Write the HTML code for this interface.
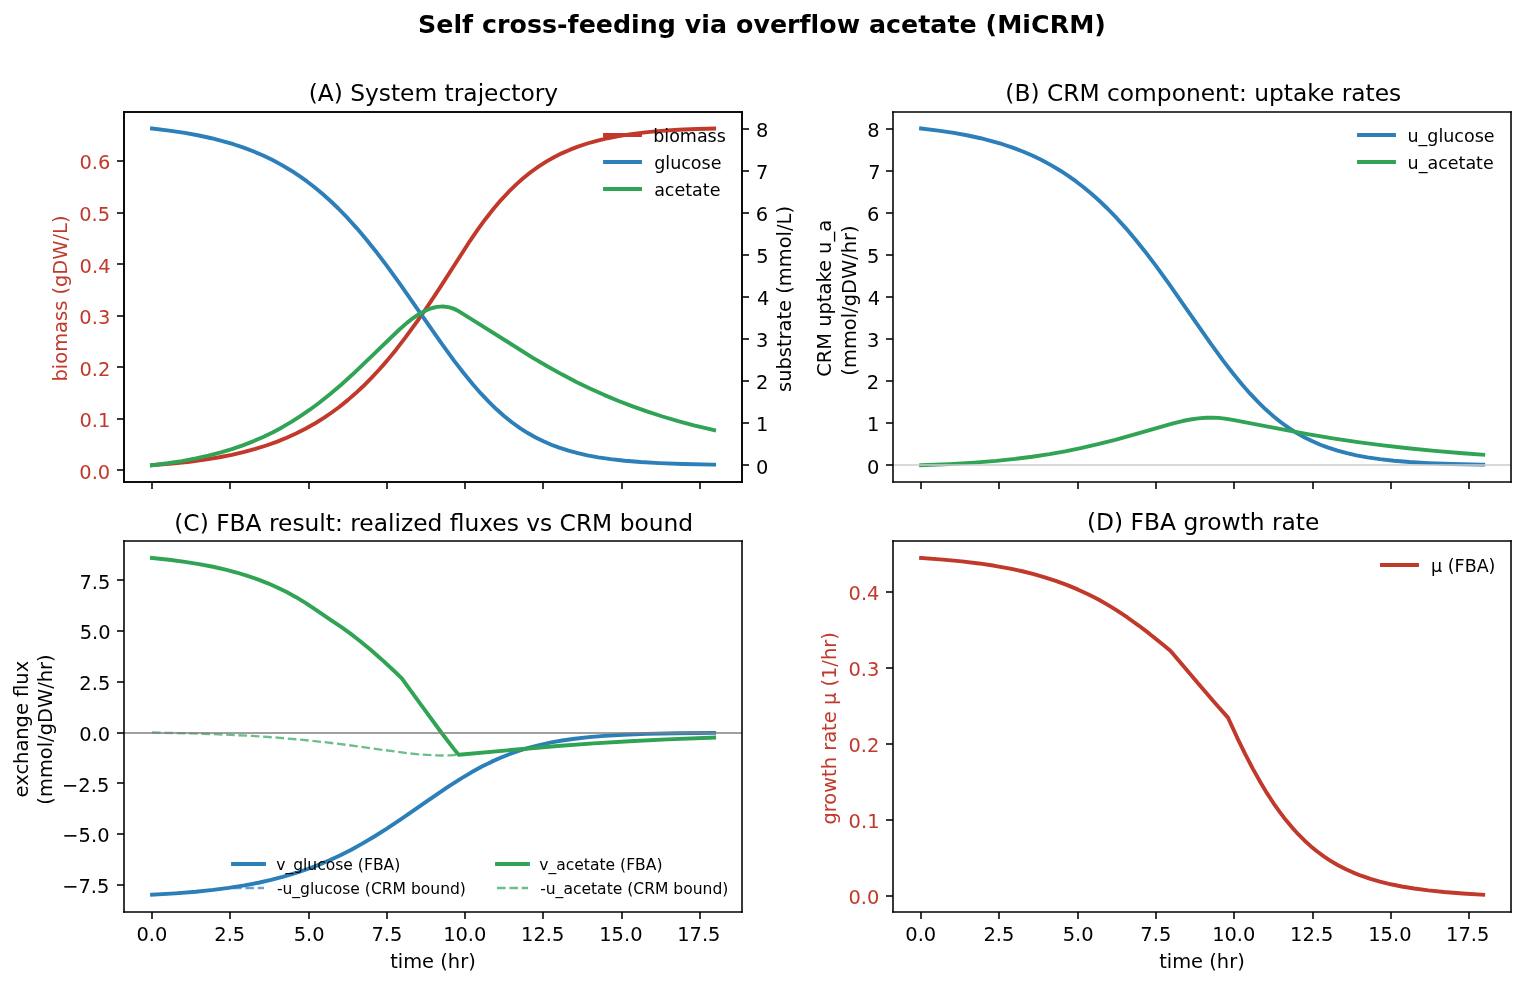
<!DOCTYPE html>
<html lang="en">
<head>
<meta charset="utf-8">
<title>Self cross-feeding via overflow acetate (MiCRM)</title>
<style>
html,body{margin:0;padding:0;background:#ffffff;}
body{width:1525px;height:985px;overflow:hidden;}
svg{display:block;}
svg text{font-family:"DejaVu Sans","Liberation Sans",sans-serif;white-space:pre;}
</style>
</head>
<body>
<svg width="1525" height="985" viewBox="0 0 1525 985" font-family="'DejaVu Sans', 'Liberation Sans', sans-serif" fill="#000000">
<defs><clipPath id="p2826ea873a"><rect x="123.89" y="541.17" width="618.36" height="370.44"/></clipPath><clipPath id="p5333a66695"><rect x="892.96" y="541.17" width="618.36" height="370.44"/></clipPath><clipPath id="p8abebcdf16"><rect x="892.96" y="111.67" width="618.36" height="370.44"/></clipPath><clipPath id="p965609456f"><rect x="123.89" y="111.67" width="618.36" height="370.44"/></clipPath></defs>
<rect width="1525" height="985" fill="#ffffff" stroke="none"/>
<path d="M152 482L152 489" stroke="#000000" stroke-width="1.56" stroke-linejoin="round" fill="none"/>
<path d="M230 482L230 489" stroke="#000000" stroke-width="1.56" stroke-linejoin="round" fill="none"/>
<path d="M309 482L309 489" stroke="#000000" stroke-width="1.56" stroke-linejoin="round" fill="none"/>
<path d="M387 482L387 489" stroke="#000000" stroke-width="1.56" stroke-linejoin="round" fill="none"/>
<path d="M465 482L465 489" stroke="#000000" stroke-width="1.56" stroke-linejoin="round" fill="none"/>
<path d="M543 482L543 489" stroke="#000000" stroke-width="1.56" stroke-linejoin="round" fill="none"/>
<path d="M622 482L622 489" stroke="#000000" stroke-width="1.56" stroke-linejoin="round" fill="none"/>
<path d="M700 482L700 489" stroke="#000000" stroke-width="1.56" stroke-linejoin="round" fill="none"/>
<path d="M124 470L117 470" stroke="#000000" stroke-width="1.56" stroke-linejoin="round" fill="none"/>
<text id="t0" font-size="19.44" text-anchor="end" fill="#c0392b" x="110.23" y="479">0.0</text>
<path d="M124 419L117 419" stroke="#000000" stroke-width="1.56" stroke-linejoin="round" fill="none"/>
<text id="t1" font-size="19.44" text-anchor="end" fill="#c0392b" x="110.42" y="427">0.1</text>
<path d="M124 367L117 367" stroke="#000000" stroke-width="1.56" stroke-linejoin="round" fill="none"/>
<text id="t2" font-size="19.44" text-anchor="end" fill="#c0392b" x="110.36" y="376">0.2</text>
<path d="M124 316L117 316" stroke="#000000" stroke-width="1.56" stroke-linejoin="round" fill="none"/>
<text id="t3" font-size="19.44" text-anchor="end" fill="#c0392b" x="110.27" y="324">0.3</text>
<path d="M124 264L117 264" stroke="#000000" stroke-width="1.56" stroke-linejoin="round" fill="none"/>
<text id="t4" font-size="19.44" text-anchor="end" fill="#c0392b" x="110.52" y="273">0.4</text>
<path d="M124 213L117 213" stroke="#000000" stroke-width="1.56" stroke-linejoin="round" fill="none"/>
<text id="t5" font-size="19.44" text-anchor="end" fill="#c0392b" x="110.16" y="221">0.5</text>
<path d="M124 161L117 161" stroke="#000000" stroke-width="1.56" stroke-linejoin="round" fill="none"/>
<text id="t6" font-size="19.44" text-anchor="end" fill="#c0392b" x="110.31" y="169">0.6</text>
<text id="t7" font-size="19.44" text-anchor="middle" fill="#c0392b" transform="translate(67 298.48) rotate(-90)">biomass (gDW/L)</text>
<path d="M152 465.26L172.35 463.56L189.58 461.7L205.24 459.59L219.33 457.26L231.86 454.79L244.38 451.88L255.34 448.92L266.31 445.51L277.27 441.6L286.66 437.8L296.06 433.55L305.45 428.8L314.85 423.51L324.24 417.63L332.07 412.26L339.9 406.44L347.73 400.13L355.56 393.33L363.39 386.02L371.22 378.17L379.05 369.79L386.88 360.86L396.27 349.41L405.67 337.18L416.63 322.1L427.59 306.28L440.12 287.45L455.78 263.03L469.87 241.07L477.7 229.67L485.53 218.97L493.36 209.02L501.19 199.86L509.02 191.48L516.84 183.88L523.11 178.33L530.94 172.04L538.77 166.43L546.6 161.43L554.43 157.01L562.26 153.1L570.08 149.66L577.91 146.64L587.31 143.5L596.7 140.83L607.67 138.22L618.63 136.07L631.15 134.09L645.25 132.34L660.91 130.89L678.13 129.76L696.92 128.95L714.14 128.5L714.14 128.5" stroke="#c0392b" stroke-width="3.89" stroke-linecap="square" stroke-linejoin="round" fill="none" clip-path="url(#p965609456f)"/>
<path d="M124 482L124 112" stroke="#000000" stroke-width="1.56" stroke-linecap="square" stroke-linejoin="miter" fill="none"/>
<path d="M742 482L742 112" stroke="#000000" stroke-width="1.56" stroke-linecap="square" stroke-linejoin="miter" fill="none"/>
<path d="M124 482L742 482" stroke="#000000" stroke-width="1.56" stroke-linecap="square" stroke-linejoin="miter" fill="none"/>
<path d="M124 112L742 112" stroke="#000000" stroke-width="1.56" stroke-linecap="square" stroke-linejoin="miter" fill="none"/>
<text id="t8" font-size="23.33" text-anchor="middle" x="433.39" y="101">(A) System trajectory</text>
<path d="M605 135L622 135L640 135" stroke="#c0392b" stroke-width="3.89" stroke-linecap="square" stroke-linejoin="round" fill="none"/>
<text id="t9" font-size="17.5" x="653.16" y="142">biomass</text>
<path d="M605 162L622 162L640 162" stroke="#2c7fb8" stroke-width="3.89" stroke-linecap="square" stroke-linejoin="round" fill="none"/>
<text id="t10" font-size="17.5" x="654.16" y="169">glucose</text>
<path d="M605 189L622 189L640 189" stroke="#31a354" stroke-width="3.89" stroke-linecap="square" stroke-linejoin="round" fill="none"/>
<text id="t11" font-size="17.5" x="654.15" y="196">acetate</text>
<path d="M921 482L921 489" stroke="#000000" stroke-width="1.56" stroke-linejoin="round" fill="none"/>
<path d="M999 482L999 489" stroke="#000000" stroke-width="1.56" stroke-linejoin="round" fill="none"/>
<path d="M1078 482L1078 489" stroke="#000000" stroke-width="1.56" stroke-linejoin="round" fill="none"/>
<path d="M1156 482L1156 489" stroke="#000000" stroke-width="1.56" stroke-linejoin="round" fill="none"/>
<path d="M1234 482L1234 489" stroke="#000000" stroke-width="1.56" stroke-linejoin="round" fill="none"/>
<path d="M1313 482L1313 489" stroke="#000000" stroke-width="1.56" stroke-linejoin="round" fill="none"/>
<path d="M1391 482L1391 489" stroke="#000000" stroke-width="1.56" stroke-linejoin="round" fill="none"/>
<path d="M1469 482L1469 489" stroke="#000000" stroke-width="1.56" stroke-linejoin="round" fill="none"/>
<path d="M893 465L886 465" stroke="#000000" stroke-width="1.56" stroke-linejoin="round" fill="none"/>
<text id="t12" font-size="19.44" text-anchor="end" x="879.29" y="474">0</text>
<path d="M893 423L886 423" stroke="#000000" stroke-width="1.56" stroke-linejoin="round" fill="none"/>
<text id="t13" font-size="19.44" text-anchor="end" x="879.48" y="431">1</text>
<path d="M893 381L886 381" stroke="#000000" stroke-width="1.56" stroke-linejoin="round" fill="none"/>
<text id="t14" font-size="19.44" text-anchor="end" x="879.23" y="389">2</text>
<path d="M893 339L886 339" stroke="#000000" stroke-width="1.56" stroke-linejoin="round" fill="none"/>
<text id="t15" font-size="19.44" text-anchor="end" x="879.33" y="347">3</text>
<path d="M893 297L886 297" stroke="#000000" stroke-width="1.56" stroke-linejoin="round" fill="none"/>
<text id="t16" font-size="19.44" text-anchor="end" x="880.24" y="305">4</text>
<path d="M893 255L886 255" stroke="#000000" stroke-width="1.56" stroke-linejoin="round" fill="none"/>
<text id="t17" font-size="19.44" text-anchor="end" x="879.36" y="263">5</text>
<path d="M893 213L886 213" stroke="#000000" stroke-width="1.56" stroke-linejoin="round" fill="none"/>
<text id="t18" font-size="19.44" text-anchor="end" x="879.3" y="221">6</text>
<path d="M893 171L886 171" stroke="#000000" stroke-width="1.56" stroke-linejoin="round" fill="none"/>
<text id="t19" font-size="19.44" text-anchor="end" x="880.53" y="179">7</text>
<path d="M893 129L886 129" stroke="#000000" stroke-width="1.56" stroke-linejoin="round" fill="none"/>
<text id="t20" font-size="19.44" text-anchor="end" x="879.55" y="137">8</text>
<text id="t21" font-size="19.44" transform="translate(831 376.82) rotate(-90)">CRM uptake u_a</text>
<text id="t22" font-size="19.44" transform="translate(856 375.63) rotate(-90)">(mmol/gDW/hr)</text>
<path d="M921.06 128.5L938.29 130.57L953.95 132.92L968.04 135.5L980.57 138.24L991.53 141.03L1002.49 144.24L1013.45 147.94L1022.85 151.54L1032.24 155.57L1041.64 160.08L1051.03 165.12L1060.43 170.72L1068.26 175.85L1076.09 181.42L1083.91 187.45L1091.74 193.97L1099.57 200.98L1107.4 208.5L1116.8 218.18L1126.19 228.59L1135.59 239.69L1144.98 251.43L1155.95 265.87L1168.47 283.16L1185.7 307.81L1210.75 343.72L1223.28 360.85L1232.67 373.04L1242.07 384.52L1249.9 393.44L1257.73 401.71L1265.56 409.32L1273.39 416.24L1281.21 422.49L1289.04 428.09L1296.87 433.06L1304.7 437.46L1312.53 441.33L1320.36 444.7L1328.19 447.65L1337.59 450.66L1346.98 453.19L1356.38 455.3L1367.34 457.32L1379.86 459.15L1393.96 460.72L1409.62 462L1428.41 463.08L1451.9 463.94L1481.65 464.57L1483.21 464.59L1483.21 464.59" stroke="#2c7fb8" stroke-width="3.89" stroke-linecap="square" stroke-linejoin="round" fill="none" clip-path="url(#p8abebcdf16)"/>
<path d="M921.06 465.26L949.25 464.09L974.3 462.61L996.23 460.86L1015.02 458.94L1032.24 456.78L1049.47 454.17L1065.12 451.38L1080.78 448.18L1098.01 444.21L1115.23 439.77L1135.59 434.03L1173.17 423.28L1182.56 421.02L1190.39 419.51L1198.22 418.4L1206.05 417.77L1212.32 417.65L1218.58 417.91L1224.84 418.59L1232.67 419.95L1271.82 427.41L1306.27 433.81L1332.89 438.31L1357.94 442.09L1383 445.41L1408.05 448.29L1434.67 450.92L1462.86 453.28L1483.21 454.74L1483.21 454.74" stroke="#31a354" stroke-width="3.89" stroke-linecap="square" stroke-linejoin="round" fill="none" clip-path="url(#p8abebcdf16)"/>
<path d="M893 465L1511 465" stroke="#cccccc" stroke-width="1.56" stroke-linecap="square" stroke-linejoin="round" fill="none" clip-path="url(#p8abebcdf16)"/>
<path d="M893 482L893 112" stroke="#000000" stroke-width="1.56" stroke-linecap="square" stroke-linejoin="miter" fill="none"/>
<path d="M1511 482L1511 112" stroke="#000000" stroke-width="1.56" stroke-linecap="square" stroke-linejoin="miter" fill="none"/>
<path d="M893 482L1511 482" stroke="#000000" stroke-width="1.56" stroke-linecap="square" stroke-linejoin="miter" fill="none"/>
<path d="M893 112L1511 112" stroke="#000000" stroke-width="1.56" stroke-linecap="square" stroke-linejoin="miter" fill="none"/>
<text id="t23" font-size="23.33" text-anchor="middle" x="1203.32" y="101">(B) CRM component: uptake rates</text>
<path d="M1359 135L1376 135L1394 135" stroke="#2c7fb8" stroke-width="3.89" stroke-linecap="square" stroke-linejoin="round" fill="none"/>
<text id="t24" font-size="17.5" x="1407.48" y="142">u_glucose</text>
<path d="M1359 162L1376 162L1394 162" stroke="#31a354" stroke-width="3.89" stroke-linecap="square" stroke-linejoin="round" fill="none"/>
<text id="t25" font-size="17.5" x="1407.57" y="169">u_acetate</text>
<path d="M152 912L152 919" stroke="#000000" stroke-width="1.56" stroke-linejoin="round" fill="none"/>
<text id="t26" font-size="19.44" text-anchor="middle" x="151.94" y="941">0.0</text>
<path d="M230 912L230 919" stroke="#000000" stroke-width="1.56" stroke-linejoin="round" fill="none"/>
<text id="t27" font-size="19.44" text-anchor="middle" x="229.8" y="941">2.5</text>
<path d="M309 912L309 919" stroke="#000000" stroke-width="1.56" stroke-linejoin="round" fill="none"/>
<text id="t28" font-size="19.44" text-anchor="middle" x="309.17" y="941">5.0</text>
<path d="M387 912L387 919" stroke="#000000" stroke-width="1.56" stroke-linejoin="round" fill="none"/>
<text id="t29" font-size="19.44" text-anchor="middle" x="386.85" y="941">7.5</text>
<path d="M465 912L465 919" stroke="#000000" stroke-width="1.56" stroke-linejoin="round" fill="none"/>
<text id="t30" font-size="19.44" text-anchor="middle" x="464.78" y="941">10.0</text>
<path d="M543 912L543 919" stroke="#000000" stroke-width="1.56" stroke-linejoin="round" fill="none"/>
<text id="t31" font-size="19.44" text-anchor="middle" x="542.67" y="941">12.5</text>
<path d="M622 912L622 919" stroke="#000000" stroke-width="1.56" stroke-linejoin="round" fill="none"/>
<text id="t32" font-size="19.44" text-anchor="middle" x="620.88" y="941">15.0</text>
<path d="M700 912L700 919" stroke="#000000" stroke-width="1.56" stroke-linejoin="round" fill="none"/>
<text id="t33" font-size="19.44" text-anchor="middle" x="698.8" y="941">17.5</text>
<text id="t34" font-size="19.44" text-anchor="middle" x="432.93" y="968">time (hr)</text>
<path d="M124 885L117 885" stroke="#000000" stroke-width="1.56" stroke-linejoin="round" fill="none"/>
<text id="t35" font-size="19.44" text-anchor="end" x="109.34" y="893">−7.5</text>
<path d="M124 834L117 834" stroke="#000000" stroke-width="1.56" stroke-linejoin="round" fill="none"/>
<text id="t36" font-size="19.44" text-anchor="end" x="109.52" y="842">−5.0</text>
<path d="M124 783L117 783" stroke="#000000" stroke-width="1.56" stroke-linejoin="round" fill="none"/>
<text id="t37" font-size="19.44" text-anchor="end" x="109.26" y="792">−2.5</text>
<path d="M124 733L117 733" stroke="#000000" stroke-width="1.56" stroke-linejoin="round" fill="none"/>
<text id="t38" font-size="19.44" text-anchor="end" x="110.23" y="741">0.0</text>
<path d="M124 682L117 682" stroke="#000000" stroke-width="1.56" stroke-linejoin="round" fill="none"/>
<text id="t39" font-size="19.44" text-anchor="end" x="110.29" y="690">2.5</text>
<path d="M124 631L117 631" stroke="#000000" stroke-width="1.56" stroke-linejoin="round" fill="none"/>
<text id="t40" font-size="19.44" text-anchor="end" x="110.63" y="639">5.0</text>
<path d="M124 580L117 580" stroke="#000000" stroke-width="1.56" stroke-linejoin="round" fill="none"/>
<text id="t41" font-size="19.44" text-anchor="end" x="110.35" y="589">7.5</text>
<text id="t42" font-size="19.44" transform="translate(28 797.39) rotate(-90)">exchange flux</text>
<text id="t43" font-size="19.44" transform="translate(52 804.64) rotate(-90)">(mmol/gDW/hr)</text>
<path d="M152 894.77L175.48 893.35L195.84 891.7L213.07 889.9L228.72 887.88L244.38 885.41L258.48 882.73L271 879.94L283.53 876.7L296.06 872.98L307.02 869.28L317.98 865.15L328.94 860.55L339.9 855.48L350.86 849.94L361.82 843.92L374.35 836.51L386.88 828.59L402.54 818.13L430.72 798.58L447.95 786.91L460.47 778.88L471.43 772.32L482.4 766.31L491.79 761.64L501.19 757.44L510.58 753.71L519.98 750.44L529.37 747.6L540.33 744.78L551.29 742.43L562.26 740.5L574.78 738.73L588.87 737.17L604.53 735.89L623.32 734.79L646.81 733.9L676.56 733.26L714.14 732.85L714.14 732.85" stroke="#2c7fb8" stroke-width="3.89" stroke-linecap="square" stroke-linejoin="round" fill="none" clip-path="url(#p2826ea873a)"/>
<path d="M152 894.77L175.48 893.35L195.84 891.7L213.07 889.9L228.72 887.88L244.38 885.41L258.48 882.73L271 879.94L283.53 876.7L296.06 872.98L307.02 869.28L317.98 865.15L328.94 860.55L339.9 855.48L350.86 849.94L361.82 843.92L374.35 836.51L386.88 828.59L402.54 818.13L430.72 798.58L447.95 786.91L460.47 778.88L471.43 772.32L482.4 766.31L491.79 761.64L501.19 757.44L510.58 753.71L519.98 750.44L529.37 747.6L540.33 744.78L551.29 742.43L562.26 740.5L574.78 738.73L588.87 737.17L604.53 735.89L623.32 734.79L646.81 733.9L676.56 733.26L714.14 732.85L714.14 732.85" stroke="#2c7fb8" stroke-width="2.33" stroke-opacity="0.7" stroke-linejoin="round" stroke-dasharray="8.63 3.73" fill="none" clip-path="url(#p2826ea873a)"/>
<path d="M152 558.01L169.22 559.8L184.88 561.83L198.97 564.07L213.07 566.76L225.59 569.61L236.55 572.51L247.51 575.84L258.48 579.65L267.87 583.34L277.27 587.47L286.66 592.07L296.06 597.18L305.45 602.82L314.85 609.04L332.07 620.83L341.47 627.12L350.86 633.91L360.26 641.19L371.22 650.27L382.18 659.92L394.71 671.55L400.97 677.55L402.54 679.34L422.89 707.33L441.68 732.98L454.21 749.34L457.34 753.29L458.91 754.78L516.84 749.48L557.56 746L593.57 743.38L629.59 741.2L667.17 739.37L709.45 737.75L714.14 737.6L714.14 737.6" stroke="#31a354" stroke-width="3.89" stroke-linecap="square" stroke-linejoin="round" fill="none" clip-path="url(#p2826ea873a)"/>
<path d="M152 732.53L192.71 733.42L224.03 734.52L252.21 735.93L277.27 737.63L300.75 739.66L324.24 742.13L347.73 745.02L380.61 749.56L408.8 753.33L421.33 754.57L432.29 755.26L441.68 755.47L451.08 755.28L460.47 754.64L577.91 744.46L612.36 742.19L648.38 740.23L687.52 738.54L714.14 737.6L714.14 737.6" stroke="#31a354" stroke-width="2.33" stroke-opacity="0.7" stroke-linejoin="round" stroke-dasharray="8.63 3.73" fill="none" clip-path="url(#p2826ea873a)"/>
<path d="M124 733L742 733" stroke="#808080" stroke-width="1.56" stroke-linecap="square" stroke-linejoin="round" fill="none" clip-path="url(#p2826ea873a)"/>
<path d="M124 912L124 541" stroke="#000000" stroke-width="1.56" stroke-linecap="square" stroke-linejoin="miter" fill="none"/>
<path d="M742 912L742 541" stroke="#000000" stroke-width="1.56" stroke-linecap="square" stroke-linejoin="miter" fill="none"/>
<path d="M124 912L742 912" stroke="#000000" stroke-width="1.56" stroke-linecap="square" stroke-linejoin="miter" fill="none"/>
<path d="M124 541L742 541" stroke="#000000" stroke-width="1.56" stroke-linecap="square" stroke-linejoin="miter" fill="none"/>
<text id="t44" font-size="23.33" text-anchor="middle" x="433.7" y="531">(C) FBA result: realized fluxes vs CRM bound</text>
<path d="M233 864L249 864L264 864" stroke="#2c7fb8" stroke-width="3.89" stroke-linecap="square" stroke-linejoin="round" fill="none"/>
<text id="t45" font-size="15.56" x="276.2" y="870">v_glucose (FBA)</text>
<path d="M233 888L249 888L264 888" stroke="#2c7fb8" stroke-width="2.33" stroke-opacity="0.7" stroke-linejoin="round" stroke-dasharray="8.63 3.73" fill="none"/>
<text id="t46" font-size="15.56" x="276.89" y="894">-u_glucose (CRM bound)</text>
<path d="M497 864L512 864L528 864" stroke="#31a354" stroke-width="3.89" stroke-linecap="square" stroke-linejoin="round" fill="none"/>
<text id="t47" font-size="15.56" x="539.24" y="870">v_acetate (FBA)</text>
<path d="M497 888L512 888L528 888" stroke="#31a354" stroke-width="2.33" stroke-opacity="0.7" stroke-linejoin="round" stroke-dasharray="8.63 3.73" fill="none"/>
<text id="t48" font-size="15.56" x="540.15" y="894">-u_acetate (CRM bound)</text>
<path d="M921 912L921 919" stroke="#000000" stroke-width="1.56" stroke-linejoin="round" fill="none"/>
<text id="t49" font-size="19.44" text-anchor="middle" x="920.76" y="941">0.0</text>
<path d="M999 912L999 919" stroke="#000000" stroke-width="1.56" stroke-linejoin="round" fill="none"/>
<text id="t50" font-size="19.44" text-anchor="middle" x="998.88" y="941">2.5</text>
<path d="M1078 912L1078 919" stroke="#000000" stroke-width="1.56" stroke-linejoin="round" fill="none"/>
<text id="t51" font-size="19.44" text-anchor="middle" x="1078.13" y="941">5.0</text>
<path d="M1156 912L1156 919" stroke="#000000" stroke-width="1.56" stroke-linejoin="round" fill="none"/>
<text id="t52" font-size="19.44" text-anchor="middle" x="1155.81" y="941">7.5</text>
<path d="M1234 912L1234 919" stroke="#000000" stroke-width="1.56" stroke-linejoin="round" fill="none"/>
<text id="t53" font-size="19.44" text-anchor="middle" x="1233.78" y="941">10.0</text>
<path d="M1313 912L1313 919" stroke="#000000" stroke-width="1.56" stroke-linejoin="round" fill="none"/>
<text id="t54" font-size="19.44" text-anchor="middle" x="1311.67" y="941">12.5</text>
<path d="M1391 912L1391 919" stroke="#000000" stroke-width="1.56" stroke-linejoin="round" fill="none"/>
<text id="t55" font-size="19.44" text-anchor="middle" x="1389.87" y="941">15.0</text>
<path d="M1469 912L1469 919" stroke="#000000" stroke-width="1.56" stroke-linejoin="round" fill="none"/>
<text id="t56" font-size="19.44" text-anchor="middle" x="1467.76" y="941">17.5</text>
<text id="t57" font-size="19.44" text-anchor="middle" x="1201.94" y="968">time (hr)</text>
<path d="M893 896L886 896" stroke="#000000" stroke-width="1.56" stroke-linejoin="round" fill="none"/>
<text id="t58" font-size="19.44" text-anchor="end" fill="#c0392b" x="879.3" y="904">0.0</text>
<path d="M893 820L886 820" stroke="#000000" stroke-width="1.56" stroke-linejoin="round" fill="none"/>
<text id="t59" font-size="19.44" text-anchor="end" fill="#c0392b" x="879.54" y="828">0.1</text>
<path d="M893 744L886 744" stroke="#000000" stroke-width="1.56" stroke-linejoin="round" fill="none"/>
<text id="t60" font-size="19.44" text-anchor="end" fill="#c0392b" x="879.31" y="752">0.2</text>
<path d="M893 668L886 668" stroke="#000000" stroke-width="1.56" stroke-linejoin="round" fill="none"/>
<text id="t61" font-size="19.44" text-anchor="end" fill="#c0392b" x="879.34" y="676">0.3</text>
<path d="M893 592L886 592" stroke="#000000" stroke-width="1.56" stroke-linejoin="round" fill="none"/>
<text id="t62" font-size="19.44" text-anchor="end" fill="#c0392b" x="879.48" y="600">0.4</text>
<text id="t63" font-size="19.44" text-anchor="middle" fill="#c0392b" transform="translate(836 728.39) rotate(-90)">growth rate μ (1/hr)</text>
<path d="M921.06 558.01L942.99 559.59L961.78 561.37L979 563.45L994.66 565.79L1008.75 568.34L1021.28 571.01L1033.81 574.14L1044.77 577.28L1055.73 580.84L1066.69 584.87L1077.65 589.4L1088.61 594.46L1098.01 599.3L1107.4 604.64L1116.8 610.42L1127.76 617.71L1138.72 625.55L1149.68 633.91L1162.21 643.99L1170.04 650.52L1173.17 653.89L1198.22 683.51L1213.88 701.69L1227.98 717.64L1237.37 738.05L1245.2 754.09L1253.03 769.12L1260.86 783.06L1267.12 793.41L1273.39 803.02L1279.65 811.92L1285.91 820.11L1292.18 827.62L1298.44 834.48L1304.7 840.73L1310.97 846.4L1317.23 851.53L1323.49 856.17L1329.76 860.35L1337.59 864.99L1345.42 869.06L1353.25 872.6L1361.07 875.7L1370.47 878.9L1379.86 881.62L1390.83 884.27L1401.79 886.47L1414.31 888.54L1428.41 890.4L1444.07 892.03L1462.86 893.54L1483.21 894.77L1483.21 894.77" stroke="#c0392b" stroke-width="3.89" stroke-linecap="square" stroke-linejoin="round" fill="none" clip-path="url(#p5333a66695)"/>
<path d="M893 912L893 541" stroke="#000000" stroke-width="1.56" stroke-linecap="square" stroke-linejoin="miter" fill="none"/>
<path d="M1511 912L1511 541" stroke="#000000" stroke-width="1.56" stroke-linecap="square" stroke-linejoin="miter" fill="none"/>
<path d="M893 912L1511 912" stroke="#000000" stroke-width="1.56" stroke-linecap="square" stroke-linejoin="miter" fill="none"/>
<path d="M893 541L1511 541" stroke="#000000" stroke-width="1.56" stroke-linecap="square" stroke-linejoin="miter" fill="none"/>
<text id="t64" font-size="23.33" text-anchor="middle" x="1203.21" y="530">(D) FBA growth rate</text>
<path d="M1382 565L1400 565L1417 565" stroke="#c0392b" stroke-width="3.89" stroke-linecap="square" stroke-linejoin="round" fill="none"/>
<text id="t65" font-size="17.5" x="1431.05" y="572">μ (FBA)</text>
<path d="M742 465L749 465" stroke="#000000" stroke-width="1.56" stroke-linejoin="round" fill="none"/>
<text id="t66" font-size="19.44" x="756.05" y="474">0</text>
<path d="M742 423L749 423" stroke="#000000" stroke-width="1.56" stroke-linejoin="round" fill="none"/>
<text id="t67" font-size="19.44" x="756" y="431">1</text>
<path d="M742 381L749 381" stroke="#000000" stroke-width="1.56" stroke-linejoin="round" fill="none"/>
<text id="t68" font-size="19.44" x="756" y="389">2</text>
<path d="M742 339L749 339" stroke="#000000" stroke-width="1.56" stroke-linejoin="round" fill="none"/>
<text id="t69" font-size="19.44" x="756.1" y="347">3</text>
<path d="M742 297L749 297" stroke="#000000" stroke-width="1.56" stroke-linejoin="round" fill="none"/>
<text id="t70" font-size="19.44" x="757.02" y="305">4</text>
<path d="M742 255L749 255" stroke="#000000" stroke-width="1.56" stroke-linejoin="round" fill="none"/>
<text id="t71" font-size="19.44" x="756.14" y="263">5</text>
<path d="M742 213L749 213" stroke="#000000" stroke-width="1.56" stroke-linejoin="round" fill="none"/>
<text id="t72" font-size="19.44" x="755.81" y="221">6</text>
<path d="M742 171L749 171" stroke="#000000" stroke-width="1.56" stroke-linejoin="round" fill="none"/>
<text id="t73" font-size="19.44" x="756.03" y="179">7</text>
<path d="M742 129L749 129" stroke="#000000" stroke-width="1.56" stroke-linejoin="round" fill="none"/>
<text id="t74" font-size="19.44" x="756.07" y="137">8</text>
<text id="t75" font-size="19.44" text-anchor="middle" transform="translate(791 298.98) rotate(-90)">substrate (mmol/L)</text>
<path d="M152 128.5L169.22 130.57L184.88 132.92L198.97 135.5L211.5 138.24L222.46 141.03L233.42 144.24L244.38 147.94L253.78 151.54L263.17 155.57L272.57 160.08L281.96 165.12L291.36 170.72L299.19 175.85L307.02 181.42L314.85 187.45L322.68 193.97L330.51 200.98L338.34 208.5L347.73 218.18L357.13 228.59L366.52 239.69L375.92 251.43L386.88 265.87L399.4 283.16L416.63 307.81L441.68 343.72L454.21 360.85L463.61 373.04L473 384.52L480.83 393.44L488.66 401.71L496.49 409.32L504.32 416.24L512.15 422.49L519.98 428.09L527.81 433.06L535.64 437.46L543.46 441.33L551.29 444.7L559.12 447.65L568.52 450.66L577.91 453.19L587.31 455.3L598.27 457.32L610.8 459.15L624.89 460.72L640.55 462L659.34 463.08L682.83 463.94L712.58 464.57L714.14 464.59L714.14 464.59" stroke="#2c7fb8" stroke-width="3.89" stroke-linecap="square" stroke-linejoin="round" fill="none" clip-path="url(#p965609456f)"/>
<path d="M152 465.26L167.66 463.27L181.75 461.08L195.84 458.45L208.37 455.67L220.89 452.41L231.86 449.11L242.82 445.35L253.78 441.08L263.17 436.97L272.57 432.42L281.96 427.41L291.36 421.91L300.75 415.92L310.15 409.44L319.54 402.48L330.51 393.79L341.47 384.46L352.43 374.54L366.52 361.14L399.4 329.51L407.23 322.64L413.5 317.79L418.19 314.61L422.89 311.89L427.59 309.67L432.29 308L436.99 306.94L440.12 306.6L443.25 306.55L446.38 306.83L449.51 307.43L452.64 308.37L455.78 309.67L458.91 311.33L476.13 322.04L532.5 357.62L548.16 366.79L562.26 374.58L576.35 381.91L590.44 388.75L604.53 395.1L618.63 400.99L632.72 406.42L646.81 411.42L662.47 416.5L678.13 421.12L693.79 425.31L711.01 429.47L714.14 430.18L714.14 430.18" stroke="#31a354" stroke-width="3.89" stroke-linecap="square" stroke-linejoin="round" fill="none" clip-path="url(#p965609456f)"/>
<path d="M124 482L124 112" stroke="#000000" stroke-width="1.56" stroke-linecap="square" stroke-linejoin="miter" fill="none"/>
<path d="M742 482L742 112" stroke="#000000" stroke-width="1.56" stroke-linecap="square" stroke-linejoin="miter" fill="none"/>
<path d="M124 482L742 482" stroke="#000000" stroke-width="1.56" stroke-linecap="square" stroke-linejoin="miter" fill="none"/>
<path d="M124 112L742 112" stroke="#000000" stroke-width="1.56" stroke-linecap="square" stroke-linejoin="miter" fill="none"/>
<text id="t76" font-size="25.28" font-weight="700" text-anchor="middle" x="761.97" y="33" letter-spacing="0.0435">Self cross-feeding via overflow acetate (MiCRM)</text>
</svg>
</body>
</html>
